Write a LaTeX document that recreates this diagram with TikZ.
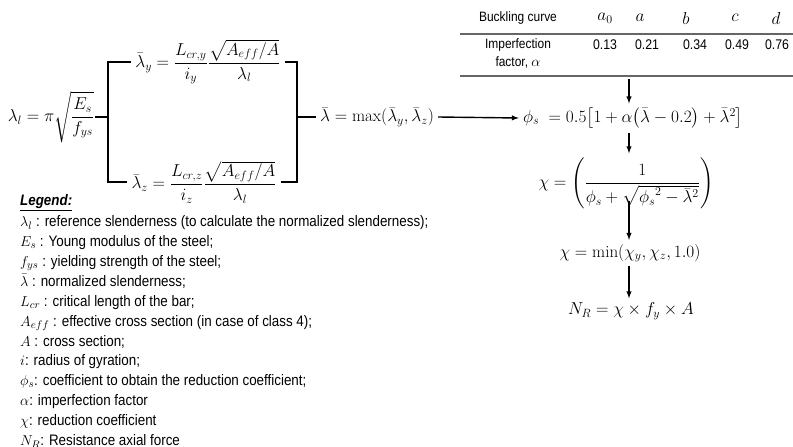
\documentclass[tikz,border=0pt]{standalone}
\usepackage{amsmath}
\usepackage{amssymb}
\usepackage{fontspec}
\setsansfont{Liberation Sans}[FakeStretch=0.88]
\usepackage{tikz}
\usetikzlibrary{calc,positioning,arrows}

\begin{document}
\begin{tikzpicture}[>=latex, x=1pt, y=-1pt,
  frm/.style={inner sep=4pt, font=\fontsize{17}{20}\selectfont},
  brk/.style={line width=1.6pt},
  flow/.style={->, line width=1.4pt},
  rule/.style={draw=black!60, line width=1.1pt},
  tabtxt/.style={inner sep=1pt, font=\sffamily\fontsize{13.6}{18}\selectfont, align=center},
  tabval/.style={inner sep=1pt, font=\sffamily\fontsize{14}{17}\selectfont},
  legend/.style={inner sep=0pt, align=left, anchor=north west,
                 font=\sffamily\fontsize{15.2}{19.9}\selectfont}]
\useasboundingbox (0,0) rectangle (793,447);

% links: Schlankheit
\node[frm, inner sep=1pt] (laml) at (51,117) {$\lambda_l=\pi\sqrt{\dfrac{E_s}{f_{ys}}}$};
\node[frm] (ly) at (208,62) {$\bar\lambda_y=\dfrac{L_{cr,y}}{i_y}\dfrac{\sqrt{A_{eff}/A}}{\lambda_l}$};
\node[frm] (lz) at (204,182) {$\bar\lambda_z=\dfrac{L_{cr,z}}{i_z}\dfrac{\sqrt{A_{eff}/A}}{\lambda_l}$};
\node[frm] (lmax) at (377,117) {$\bar\lambda=\max(\bar\lambda_y,\bar\lambda_z)$};
\coordinate (tl) at (108,117);
\coordinate (tr) at (297,117);

% rechts: Tabelle Imperfektion
\node[tabtxt] (hcurve) at (518,18) {Buckling curve};
\node[frm, inner sep=1pt] (ha0) at (605,18) {$a_0$};
\node[frm, inner sep=1pt] (ha)  at (640,18) {$a$};
\node[frm, inner sep=1pt] (hb)  at (686,18) {$b$};
\node[frm, inner sep=1pt] (hc)  at (735,18) {$c$};
\node[frm, inner sep=1pt] (hd)  at (776,18) {$d$};
\node[tabtxt] (himp) at (518,53) {Imperfection\\factor, $\alpha$};
\node[tabval] (va0) at (605,45) {0.13};
\node[tabval] (va)  at (647,45) {0.21};
\node[tabval] (vb)  at (695,45) {0.34};
\node[tabval] (vc)  at (737,45) {0.49};
\node[tabval] (vd)  at (777,45) {0.76};
\draw[rule] (460,34) -- (793,34);
\draw[rule] (460,76) -- (793,76);
\coordinate (tabbot) at (629,79);

% rechte Spalte: Abminderung
\node[frm] (phi)  at (633,118) {$\phi_s\;=0.5\bigl[1+\alpha\bigl(\bar\lambda-0.2\bigr)+\bar\lambda^2\bigr]$};
\node[frm] (chi)  at (626,183) {$\chi=\left(\dfrac{1}{\phi_s+\sqrt{{\phi_s}^2-\bar\lambda^2}}\right)$};
\node[frm] (cmin) at (630,253) {$\chi=\min(\chi_y,\chi_z,1.0)$};
\node[frm] (nr)   at (631,311) {$N_R=\chi\times f_y\times A$};

% Legende
\node[legend] (leg) at (20,194) {\textbf{\textit{\underline{Legend:}}}\\[1.5pt]
$\lambda_l$ : reference slenderness (to calculate the normalized slenderness);\\
$E_s$ : Young modulus of the steel;\\
$f_{ys}$ : yielding strength of the steel;\\
$\bar\lambda$ : normalized slenderness;\\
$L_{cr}$ : critical length of the bar;\\
$A_{eff}$ : effective cross section (in case of class 4);\\
$A$ : cross section;\\
$i$: radius of gyration;\\
$\phi_s$: coefficient to obtain the reduction coefficient;\\
$\alpha$: imperfection factor\\
$\chi$: reduction coefficient\\
$N_R$: Resistance axial force};

\draw[brk] (ly.west) -- (ly.west -| tl) |- (lz.west);
\draw[brk] (laml.east) -- (tl);
\draw[brk] (ly.east) -- (ly.east -| tr) |- (lz.east);
\draw[brk] (tr) -- (lmax.west);
\draw[flow] (lmax.east) -- (phi.west);
\draw[flow] (tabbot) -- (tabbot |- phi.north);
\draw[flow] (tabbot |- phi.south) -- (tabbot |- chi.north);
\draw[flow] ([yshift=12pt]tabbot |- chi.south) -- (tabbot |- cmin.north);
\draw[flow] (tabbot |- cmin.south) -- (tabbot |- nr.north);
\end{tikzpicture}
\end{document}
